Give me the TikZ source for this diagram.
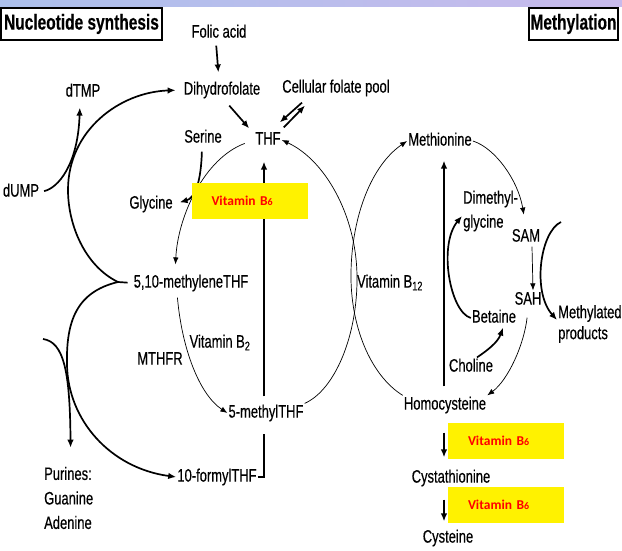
\documentclass[tikz,border=0pt]{standalone}
\usepackage{fontspec}
\setmainfont{Liberation Sans}[FakeStretch=0.72, FakeBold=0.4]
\newfontfamily\vitfont{Carlito}
\usetikzlibrary{arrows.meta,positioning}
\definecolor{stripL}{RGB}{172,192,236}
\definecolor{stripR}{RGB}{200,186,236}
\newcommand{\vitBsix}{Vitamin B{\fontsize{10}{10}\selectfont 6}}

\begin{document}
\begin{tikzpicture}[
  x=1pt, y=-1pt,
  font=\fontsize{18}{20}\selectfont, >={Latex[length=8pt,width=6.5pt]},
  base/.style={inner sep=1pt},
  lbl/.style={base, text height=13pt, text depth=3.8pt},
  multi/.style={base, align=left, anchor=west},
  head/.style={draw, line width=1.1pt, font=\fontsize{21.5}{23}\selectfont\bfseries,
               minimum height=32pt, inner sep=1pt},
  heavy/.style={line width=1.7pt},
  light/.style={line width=0.7pt, >={Latex[length=7pt,width=5.5pt]}},
  vitbox/.style={fill=yellow, text=red, minimum height=36pt, inner xsep=20pt,
                 text width=76pt, align=left,
                 font=\vitfont\bfseries\fontsize{13.5}{15}\selectfont}]
\useasboundingbox (0,0) rectangle (622,551);
\shade[left color=stripL, right color=stripR] (0,0) rectangle (622,7);

% headings
\node[head, minimum width=161pt] (nuc)  at (81.5,24)  {Nucleotide synthesis};
\node[head, minimum width=89pt]  (meth) at (573.5,24) {Methylation};

% folate side
\node[lbl] (folic)   at (219,33)  {Folic acid};
\node[lbl] (dhf)     at (222,90)  {Dihydrofolate};
\node[lbl] (pool)    at (336,88)  {Cellular folate pool};
\node[lbl] (dtmp)    at (83,92)   {dTMP};
\node[lbl] (thf)     at (268,140) {THF};
\node[lbl] (serine)  at (203,138) {Serine};
\node[lbl] (dump)    at (21,192)  {dUMP};
\node[lbl] (glycine) at (151,204) {Glycine};
\node[lbl] (mlene)   at (191,283) {5,10-methyleneTHF};
\node[lbl] (vitbtwo) at (220,343) {Vitamin B\textsubscript{2}};
\node[lbl] (mthfr)   at (160,360) {MTHFR};
\node[lbl] (mthf)    at (266,413) {5-methylTHF};
\node[lbl] (ften)    at (217,477) {10-formylTHF};
\node[multi, font=\fontsize{18}{24.5}\selectfont] (purines) at (43,498)
  {Purines:\\Guanine\\Adenine};

% methionine side
\node[lbl] (vitbtwelve) at (390,283) {Vitamin B\textsubscript{12}};
\node[lbl] (methionine) at (440,141) {Methionine};
\node[multi, font=\fontsize{18}{24}\selectfont] (dmg) at (462,211) {Dimethyl-\\glycine};
\node[lbl] (sam)      at (526,237) {SAM};
\node[lbl] (sah)      at (528,300) {SAH};
\node[lbl] (betaine)  at (494,318) {Betaine};
\node[multi, font=\fontsize{18}{21}\selectfont] (mprod) at (557,324) {Methylated\\products};
\node[lbl] (choline)  at (471,367) {Choline};
\node[lbl] (homocys)  at (445,405) {Homocysteine};
\node[lbl] (cysta)    at (451,478) {Cystathionine};
\node[lbl] (cysteine) at (448,538) {Cysteine};

\coordinate (fork)  at (118,282);
\coordinate (pfrom) at (43,339);
\coordinate (msrc)  at (561,222);

% heavy arrows
\draw[->,heavy, shorten <=3pt, shorten >=8pt] ([xshift=-3pt]folic.south) -- ([xshift=-3pt]dhf.north);
\draw[->,heavy, shorten <=8pt] ([xshift=2pt]dhf.south) -- ([xshift=-5pt,yshift=2pt]thf.north west);
\draw[->,heavy] ([xshift=-34pt,yshift=-5pt]pool.south) -- ([xshift=-2pt,yshift=8pt]thf.north east);
\draw[->,heavy] ([xshift=2pt,yshift=3pt]thf.north east) -- ([xshift=-31pt,yshift=-8pt]pool.south);
\draw[->,heavy, shorten <=4pt, shorten >=6pt] (dump.east) .. controls (58,188) and (78,165) .. ([xshift=-3pt]dtmp.south);
\draw[->,heavy, shorten <=4pt, shorten >=6pt] ([xshift=-1pt]serine.south) .. controls (201,182) and (195,198) .. (glycine.east);
\draw[heavy, shorten <=5pt] (mlene.west) -- (fork);
\draw[->,heavy, shorten >=7pt] (fork) .. controls (85,266) and (68,225) .. (68,190)
  .. controls (68,130) and (120,92) .. (dhf.west);
\draw[->,heavy] (fork) .. controls (76,292) and (66,322) .. (67,365)
  .. controls (68,420) and (110,468) .. (ften.west);
\draw[->,heavy, shorten >=18pt] (pfrom) .. controls (64,342) and (70,372) .. ([xshift=2pt]purines.north);
\draw[heavy, shorten >=11pt] (ften.east) -| ([xshift=-2pt]mthf.south);
\draw[->,heavy, shorten <=7pt, shorten >=12pt] ([xshift=-2pt]mthf.north) -- ([xshift=-4pt]thf.south);
\draw[->,heavy, shorten <=9pt, shorten >=10pt] ([xshift=-1pt]homocys.north) -- ([xshift=4pt]methionine.south);
\draw[->,heavy, shorten <=18pt, shorten >=11pt] ([xshift=-1pt]homocys.south) -- ([xshift=-7pt]cysta.north);
\draw[->,heavy, shorten <=12pt, shorten >=7pt] ([xshift=-7pt]cysta.south) -- ([xshift=-4pt]cysteine.north);
\draw[->,heavy] ([xshift=6pt]choline.north) .. controls (488,350) and (498,342) .. ([xshift=9pt]betaine.south);
\draw[->,heavy] (betaine.west) .. controls (450,312) and (438,245) .. ([yshift=-5pt]dmg.west);
\draw[->,heavy] (msrc) .. controls (540,232) and (532,292) .. ([yshift=4pt]mprod.west);

% the two cycles
\draw[->,light, shorten <=10pt, shorten >=9pt] (thf.west) .. controls (205,158) and (178,215) .. ([xshift=-16pt]mlene.north);
\draw[->,light, shorten <=5pt] ([xshift=-14pt]mlene.south) .. controls (182,350) and (200,395) .. (mthf.west);
\draw[->,light] (mthf.north east) .. controls (335,390) and (358,335) .. (357,275)
  .. controls (356,215) and (325,160) .. (thf.east);
\draw[->,light] (homocys.north west) .. controls (370,375) and (350,325) .. (351,272)
  .. controls (352,215) and (372,165) .. (methionine.west);
\draw[->,light, shorten >=13pt] (methionine.east) .. controls (495,148) and (518,180) .. (sam.north);
\draw[->,light] ([xshift=6pt]sam.south) -- ([xshift=5pt]sah.north);
\draw[->,light, shorten <=8pt] (sah.south) .. controls (524,345) and (508,380) .. (homocys.north east);

% vitamin B6 labels
\node[vitbox] (vbone)   at (249.5,201) {\vitBsix};
\node[vitbox] (vbtwo)   at (506,441)   {\vitBsix};
\node[vitbox] (vbthree) at (506,505)   {\vitBsix};
\end{tikzpicture}
\end{document}
